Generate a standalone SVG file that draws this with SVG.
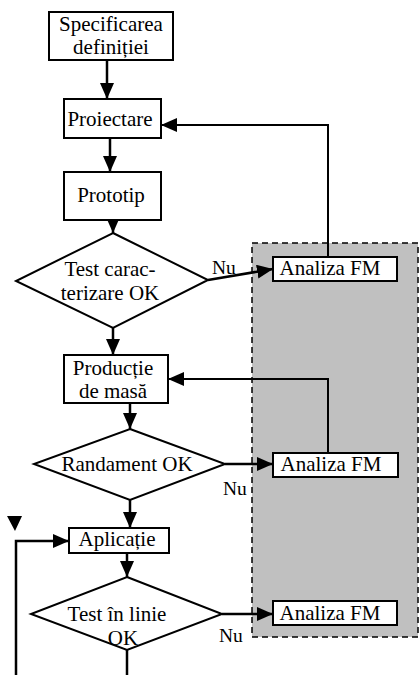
<svg xmlns="http://www.w3.org/2000/svg" width="419" height="675" viewBox="0 0 419 675">
<style>
.box{fill:#fff;stroke:#000;stroke-width:2}
.dia{fill:#fff;stroke:#000;stroke-width:2}
.t{font-size:21px;fill:#000;text-anchor:middle}
.ts{font-size:19.5px;fill:#000}
.c{fill:none;stroke:#000;stroke-width:2.5}
.f{fill:none;stroke:#000;stroke-width:2}
</style>
<defs>
<marker id="a" viewBox="0 0 16 14" refX="16" refY="7" markerWidth="16" markerHeight="14" markerUnits="userSpaceOnUse" orient="auto">
<path d="M0,0 L16,7 L0,14 Z" fill="#000"/>
</marker>
</defs>
<rect id="fm-area" x="252" y="243" width="166" height="394" fill="#c0c0c0" stroke="#000" stroke-width="1.5" stroke-dasharray="6,4"/>
<g id="connectors">
<path class="c" d="M107,60 V99" marker-end="url(#a)"/>
<path class="c" d="M110,138 V172" marker-end="url(#a)"/>
<path class="c" d="M113,220 V233" marker-end="url(#a)"/>
<path class="c" d="M208,280 L273,269" marker-end="url(#a)"/>
<path class="f" d="M328,257 V125 H161" marker-end="url(#a)"/>
<path class="c" d="M113,328 V355" marker-end="url(#a)"/>
<path class="f" d="M328,453 V379 H168" marker-end="url(#a)"/>
<path class="c" d="M130,403 V429" marker-end="url(#a)"/>
<path class="c" d="M225,464 H273" marker-end="url(#a)"/>
<path class="c" d="M130,500 V528" marker-end="url(#a)"/>
<path class="c" d="M16,675 V541 H69" marker-end="url(#a)"/>
<path class="c" d="M127,553 V577" marker-end="url(#a)"/>
<path class="c" d="M222,614 H273" marker-end="url(#a)"/>
<path class="c" d="M127,650 V675"/>
<polygon points="7,516 22,516 15,531" fill="#000"/>
</g>
<g font-family="Liberation Serif, serif">
<g id="spec">
<rect class="box" x="49" y="12" width="124" height="48"/>
<text class="t" x="111" y="31">Specificarea</text>
<text class="t" x="111" y="54">definiției</text>
</g>
<g id="proiectare">
<rect class="box" x="64" y="99" width="97" height="39"/>
<text class="t" x="110" y="126">Proiectare</text>
</g>
<g id="prototip">
<rect class="box" x="64" y="172" width="97" height="48"/>
<text class="t" x="111" y="202">Prototip</text>
</g>
<g id="test-caracterizare">
<polygon class="dia" points="113,233 208,280 113,328 16,281"/>
<text class="t" x="110" y="276">Test carac-</text>
<text class="t" x="110" y="300">terizare OK</text>
<text class="ts" x="212" y="274">Nu</text>
</g>
<g id="analiza1">
<rect class="box" x="273" y="257" width="124" height="24"/>
<text class="t" x="330" y="275">Analiza FM</text>
</g>
<g id="productie">
<rect class="box" x="64" y="355" width="104" height="48"/>
<text class="t" x="113" y="375">Producție</text>
<text class="t" x="113" y="398">de masă</text>
</g>
<g id="randament">
<polygon class="dia" points="130,429 225,464 130,500 34,464"/>
<text class="t" x="127" y="471">Randament OK</text>
<text class="ts" x="223" y="495">Nu</text>
</g>
<g id="analiza2">
<rect class="box" x="273" y="453" width="125" height="24"/>
<text class="t" x="331" y="471">Analiza FM</text>
</g>
<g id="aplicatie">
<rect class="box" x="69" y="528" width="100" height="25"/>
<text class="t" x="117" y="546">Aplicație</text>
</g>
<g id="test-linie">
<polygon class="dia" points="127,577 222,614 127,650 31,614"/>
<text class="t" x="117" y="621">Test în linie</text>
<text class="t" x="123" y="645">OK</text>
<text class="ts" x="219" y="642">Nu</text>
</g>
<g id="analiza3">
<rect class="box" x="273" y="601" width="124" height="24"/>
<text class="t" x="330" y="620">Analiza FM</text>
</g>
</g>
</svg>
